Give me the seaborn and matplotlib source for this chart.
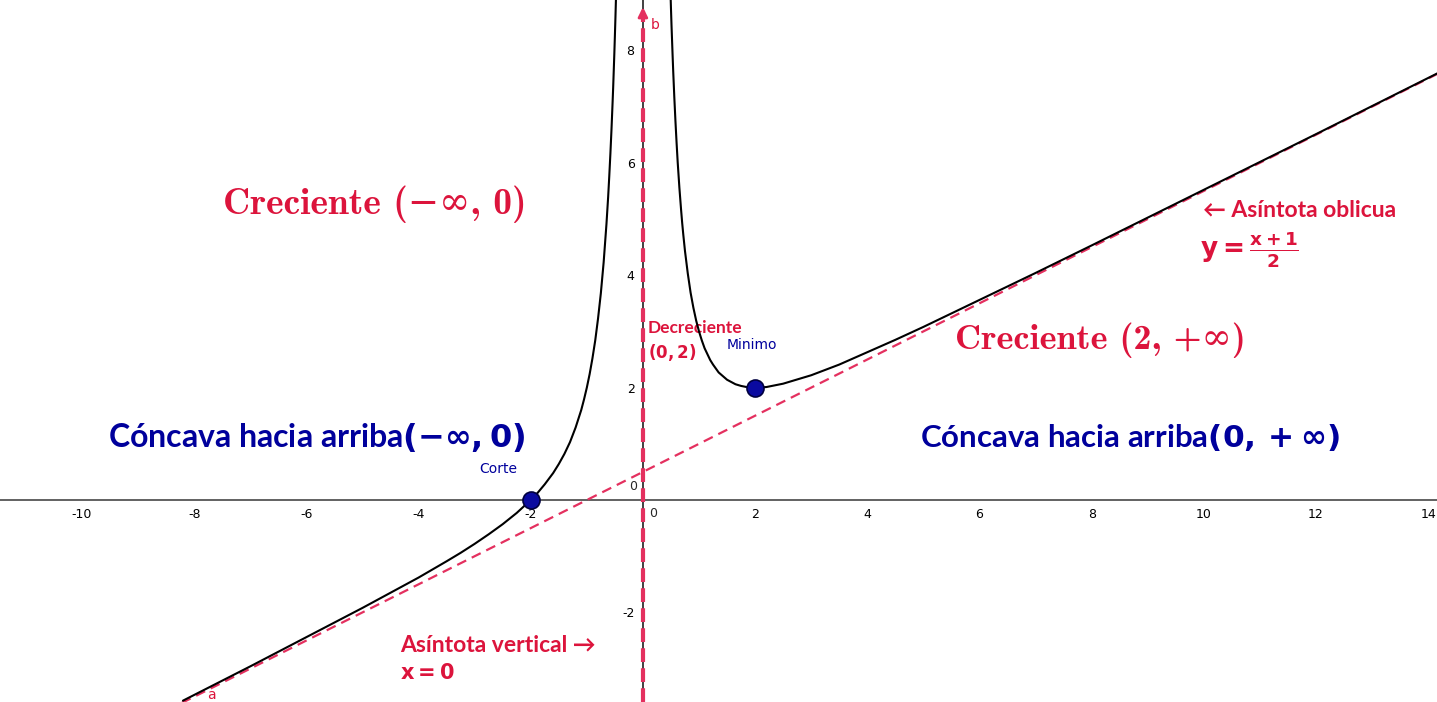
import numpy as np
import pandas as pd
import matplotlib
matplotlib.use("Agg")
import matplotlib.pyplot as plt
import seaborn as sns

# curve values (two branches around x = 0)
left_x = [-8.2, -7, -6, -5, -4.5, -4, -3.5, -3.25, -3, -2.75, -2.5, -2.25, -2, -1.9, -1.75,
          -1.6, -1.5, -1.4, -1.3, -1.25, -1.2, -1.1, -1.05, -1.0, -0.95, -0.9, -0.85, -0.8,
          -0.75, -0.7, -0.65, -0.62, -0.6, -0.58, -0.56, -0.54, -0.53, -0.51, -0.5, -0.49, -0.48]
left_y = [-3.57, -2.96, -2.44, -1.92, -1.65, -1.38, -1.09, -0.94, -0.78, -0.61, -0.43, -0.23, 0.00,
          0.10, 0.28, 0.48, 0.64, 0.82, 1.03, 1.16, 1.29, 1.60, 1.79, 2.00, 2.24, 2.52, 2.84, 3.23,
          3.68, 4.23, 4.91, 5.39, 5.76, 6.16, 6.60, 7.09, 7.35, 7.93, 8.25, 8.58, 8.94]
right_x = [0.48, 0.5, 0.51, 0.53, 0.54, 0.56, 0.58, 0.6, 0.62, 0.65, 0.68, 0.7, 0.72, 0.75, 0.8,
           0.85, 0.9, 0.95, 1.0, 1.05, 1.1, 1.2, 1.25, 1.35, 1.5, 1.65, 1.75, 1.85, 2, 2.2, 2.5,
           2.8, 3, 3.5, 4, 4.5, 5, 6, 7, 8, 10, 12, 14.2]
right_y = [9.42, 8.75, 8.44, 7.89, 7.63, 7.16, 6.74, 6.36, 6.01, 5.56, 5.17, 4.93, 4.72, 4.43, 4.03,
           3.69, 3.42, 3.19, 3.00, 2.84, 2.70, 2.49, 2.41, 2.27, 2.14, 2.06, 2.03, 2.01, 2.00, 2.01, 2.07,
           2.16, 2.22, 2.41, 2.63, 2.85, 3.08, 3.56, 4.04, 4.53, 5.52, 6.51, 7.61]

# oblique asymptote a, vertical asymptote b
obl_x = [-11.5, 14.2]
obl_y = [-5.25, 7.60]
vert_y = [-3.6, 8.7]

# marked points
pt_x = [-2, 2]
pt_y = [0, 2]
pt_name = ["Corte", "Minimo"]

x_ticks = [-10, -8, -6, -4, -2, 2, 4, 6, 8, 10, 12, 14]
y_ticks = [-2, 2, 4, 6, 8]

RED = "#DC143C"
DASH_RED = "#E4305F"
BLUE = "#00009C"

sns.set_style("white")
plt.rcParams['font.family'] = ['Lato', 'DejaVu Sans']

fig = plt.figure(figsize=(14.37, 7.02), dpi=100)
ax = fig.add_axes([0, 0, 1, 1])

# axes through the origin
for s in ["top", "right"]:
    ax.spines[s].set_visible(False)
ax.spines["left"].set_position(("data", 0))
ax.spines["bottom"].set_position(("data", 0))
ax.spines["left"].set_color("#333333")
ax.spines["bottom"].set_color("#555555")
ax.spines["left"].set_linewidth(1.3)
ax.spines["bottom"].set_linewidth(1.3)

ax.set_xticks(x_ticks)
ax.set_xticklabels([str(t) for t in x_ticks])
ax.set_yticks(y_ticks)
ax.set_yticklabels([str(t) for t in y_ticks])
ax.tick_params(axis="both", direction="inout", length=6, width=1, colors="#333333",
               labelsize=9, labelcolor="black", pad=3)
for lab in ax.get_xticklabels() + ax.get_yticklabels():
    lab.set_fontfamily("DejaVu Sans")
ax.text(-0.18, 0.12, "0", fontsize=9, ha="center", va="bottom", family="DejaVu Sans")
ax.text(0.18, -0.13, "0", fontsize=9, ha="center", va="top", family="DejaVu Sans")

# asymptotes
sns.lineplot(x=obl_x, y=obl_y, ax=ax, color=DASH_RED, lw=1.6, zorder=3)
ax.lines[-1].set_dashes((4.5, 2.8))
sns.lineplot(x=[0, 0], y=vert_y, ax=ax, color=DASH_RED, lw=3.0, sort=False, estimator=None, zorder=3)
ax.lines[-1].set_dashes((3.3, 1.5))
ax.annotate("", xy=(0, 8.82), xytext=(0, 8.5),
            arrowprops=dict(arrowstyle="-|>", color=DASH_RED, lw=2, mutation_scale=14), zorder=4)

# function branches
sns.lineplot(x=left_x, y=left_y, ax=ax, color="black", lw=1.5, sort=False, estimator=None, zorder=4)
sns.lineplot(x=right_x, y=right_y, ax=ax, color="black", lw=1.5, sort=False, estimator=None, zorder=4)

sns.scatterplot(x=pt_x, y=pt_y, ax=ax, s=150, color="#0A0AA0", edgecolor="#000040",
                linewidth=1.2, zorder=5)
ax.text(-2.58, 0.55, pt_name[0], color=BLUE, fontsize=10, ha="center", va="center", family="DejaVu Sans")
ax.text(1.95, 2.76, pt_name[1], color=BLUE, fontsize=10, ha="center", va="center", family="DejaVu Sans")

ax.text(-7.70, -3.47, "a", color=RED, fontsize=10, ha="center", va="center", family="DejaVu Sans")
ax.text(0.22, 8.45, "b", color=RED, fontsize=10, ha="center", va="center", family="DejaVu Sans")

# annotations
serif_bold = ["cmb10", "DejaVu Serif"]
ax.text(-4.78, 5.27, "Creciente (−∞, 0)", color=RED, fontsize=27, family=serif_bold,
        ha="center", va="center")
ax.text(8.15, 2.85, "Creciente (2, +∞)", color=RED, fontsize=26, family=serif_bold,
        ha="center", va="center")

ax.text(-9.54, 1.12, r"Cóncava hacia arriba$\mathbf{(-\infty, 0)}$", color=BLUE, fontsize=23,
        fontweight="bold", ha="left", va="center", math_fontfamily="dejavusans")
ax.text(4.94, 1.12, r"Cóncava hacia arriba$\mathbf{(0, +\infty)}$", color=BLUE, fontsize=22.5,
        fontweight="bold", ha="left", va="center", math_fontfamily="dejavusans")

ax.text(0.09, 3.06, "Decreciente", color=RED, fontsize=12.5, fontweight="bold", ha="left", va="center")
ax.text(0.09, 2.62, r"$\mathbf{(0,2)}$", color=RED, fontsize=12, ha="left", va="center",
        math_fontfamily="dejavusans")

ax.text(9.99, 5.16, "← Asíntota oblicua", color=RED, fontsize=16.5, fontweight="bold",
        ha="left", va="center")
ax.text(9.93, 4.45, r"$\mathbf{y = \frac{x+1}{2}}$", color=RED, fontsize=19, ha="left", va="center",
        math_fontfamily="dejavusans")

ax.text(-4.33, -2.58, "Asíntota vertical →", color=RED, fontsize=16.5, fontweight="bold",
        ha="left", va="center")
ax.text(-4.33, -3.08, r"$\mathbf{x = 0}$", color=RED, fontsize=15, ha="left", va="center",
        math_fontfamily="dejavusans")

ax.set_xlim(-11.462, 14.157)
ax.set_ylim(-3.594, 8.897)
ax.set_xlabel("")
ax.set_ylabel("")
if ax.get_legend():
    ax.get_legend().remove()

fig.savefig("out.png", dpi=100, facecolor="white")
